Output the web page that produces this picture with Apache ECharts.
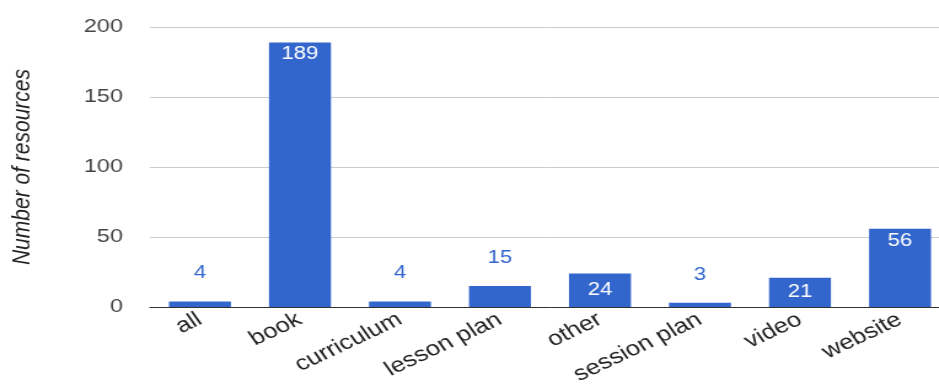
<!DOCTYPE html>
<html>
<head>
<meta charset="utf-8">
<script src="https://cdn.jsdelivr.net/npm/echarts@6/dist/echarts.min.js"></script>
<style>
  html, body { margin: 0; padding: 0; background: #fff; overflow: hidden; width: 939px; height: 387px; }
  /* the chart is drawn narrower and widened, giving the broad lettering;
     its last category runs past the right edge of the window */
  #chart { width: 773px; height: 387px; transform: scaleX(1.229); transform-origin: 0 0; }
</style>
</head>
<body>
<div id="chart"></div>
<script>
// Resource types and how many resources fall in each
const categories = ['all', 'book', 'curriculum', 'lesson plan', 'other', 'session plan', 'video', 'website'];
const counts = [4, 189, 4, 15, 24, 3, 21, 56];
const yTicks = { min: 0, max: 200, interval: 50 };

const BLUE = '#3366cc';
const FONT = '"Liberation Sans", Arial, sans-serif';

// Label placement by bar height: tall bars at the top inside, medium bars
// centred inside (both white), short bars above in blue
function labelFor(v) {
  if (v >= 40) return { position: 'insideTop', distance: 3, color: '#ffffff' };
  if (v >= 20) return { position: 'inside', color: '#ffffff' };
  return { position: 'top', distance: 19, color: BLUE };
}
const barData = counts.map(v => ({ value: v, label: labelFor(v) }));

const chart = echarts.init(document.getElementById('chart'), null, { renderer: 'canvas' });
chart.setOption({
  animation: false,
  textStyle: { fontFamily: FONT },
  grid: { left: 122, right: 0, top: 27, bottom: 79, containLabel: false },
  xAxis: {
    type: 'category',
    data: categories,
    axisTick: { show: false },
    axisLine: { lineStyle: { color: '#333333', width: 1 } },
    axisLabel: { rotate: 30, fontSize: 21, color: '#222222', margin: 11, fontFamily: FONT, interval: 0 }
  },
  yAxis: {
    type: 'value',
    min: yTicks.min,
    max: yTicks.max,
    interval: yTicks.interval,
    name: 'Number of resources',
    nameLocation: 'middle',
    nameGap: 93,
    nameTextStyle: { fontSize: 21, fontStyle: 'italic', color: '#222222', fontFamily: FONT },
    axisLine: { show: false },
    axisTick: { show: false },
    axisLabel: { fontSize: 19, color: '#444444', margin: 22, fontFamily: FONT },
    splitLine: { lineStyle: { color: '#cccccc', width: 1 } }
  },
  series: [{
    type: 'bar',
    data: barData,
    barWidth: 50.4,
    itemStyle: { color: BLUE },
    label: { show: true, fontSize: 18, fontFamily: FONT }
  }]
});
</script>
</body>
</html>
